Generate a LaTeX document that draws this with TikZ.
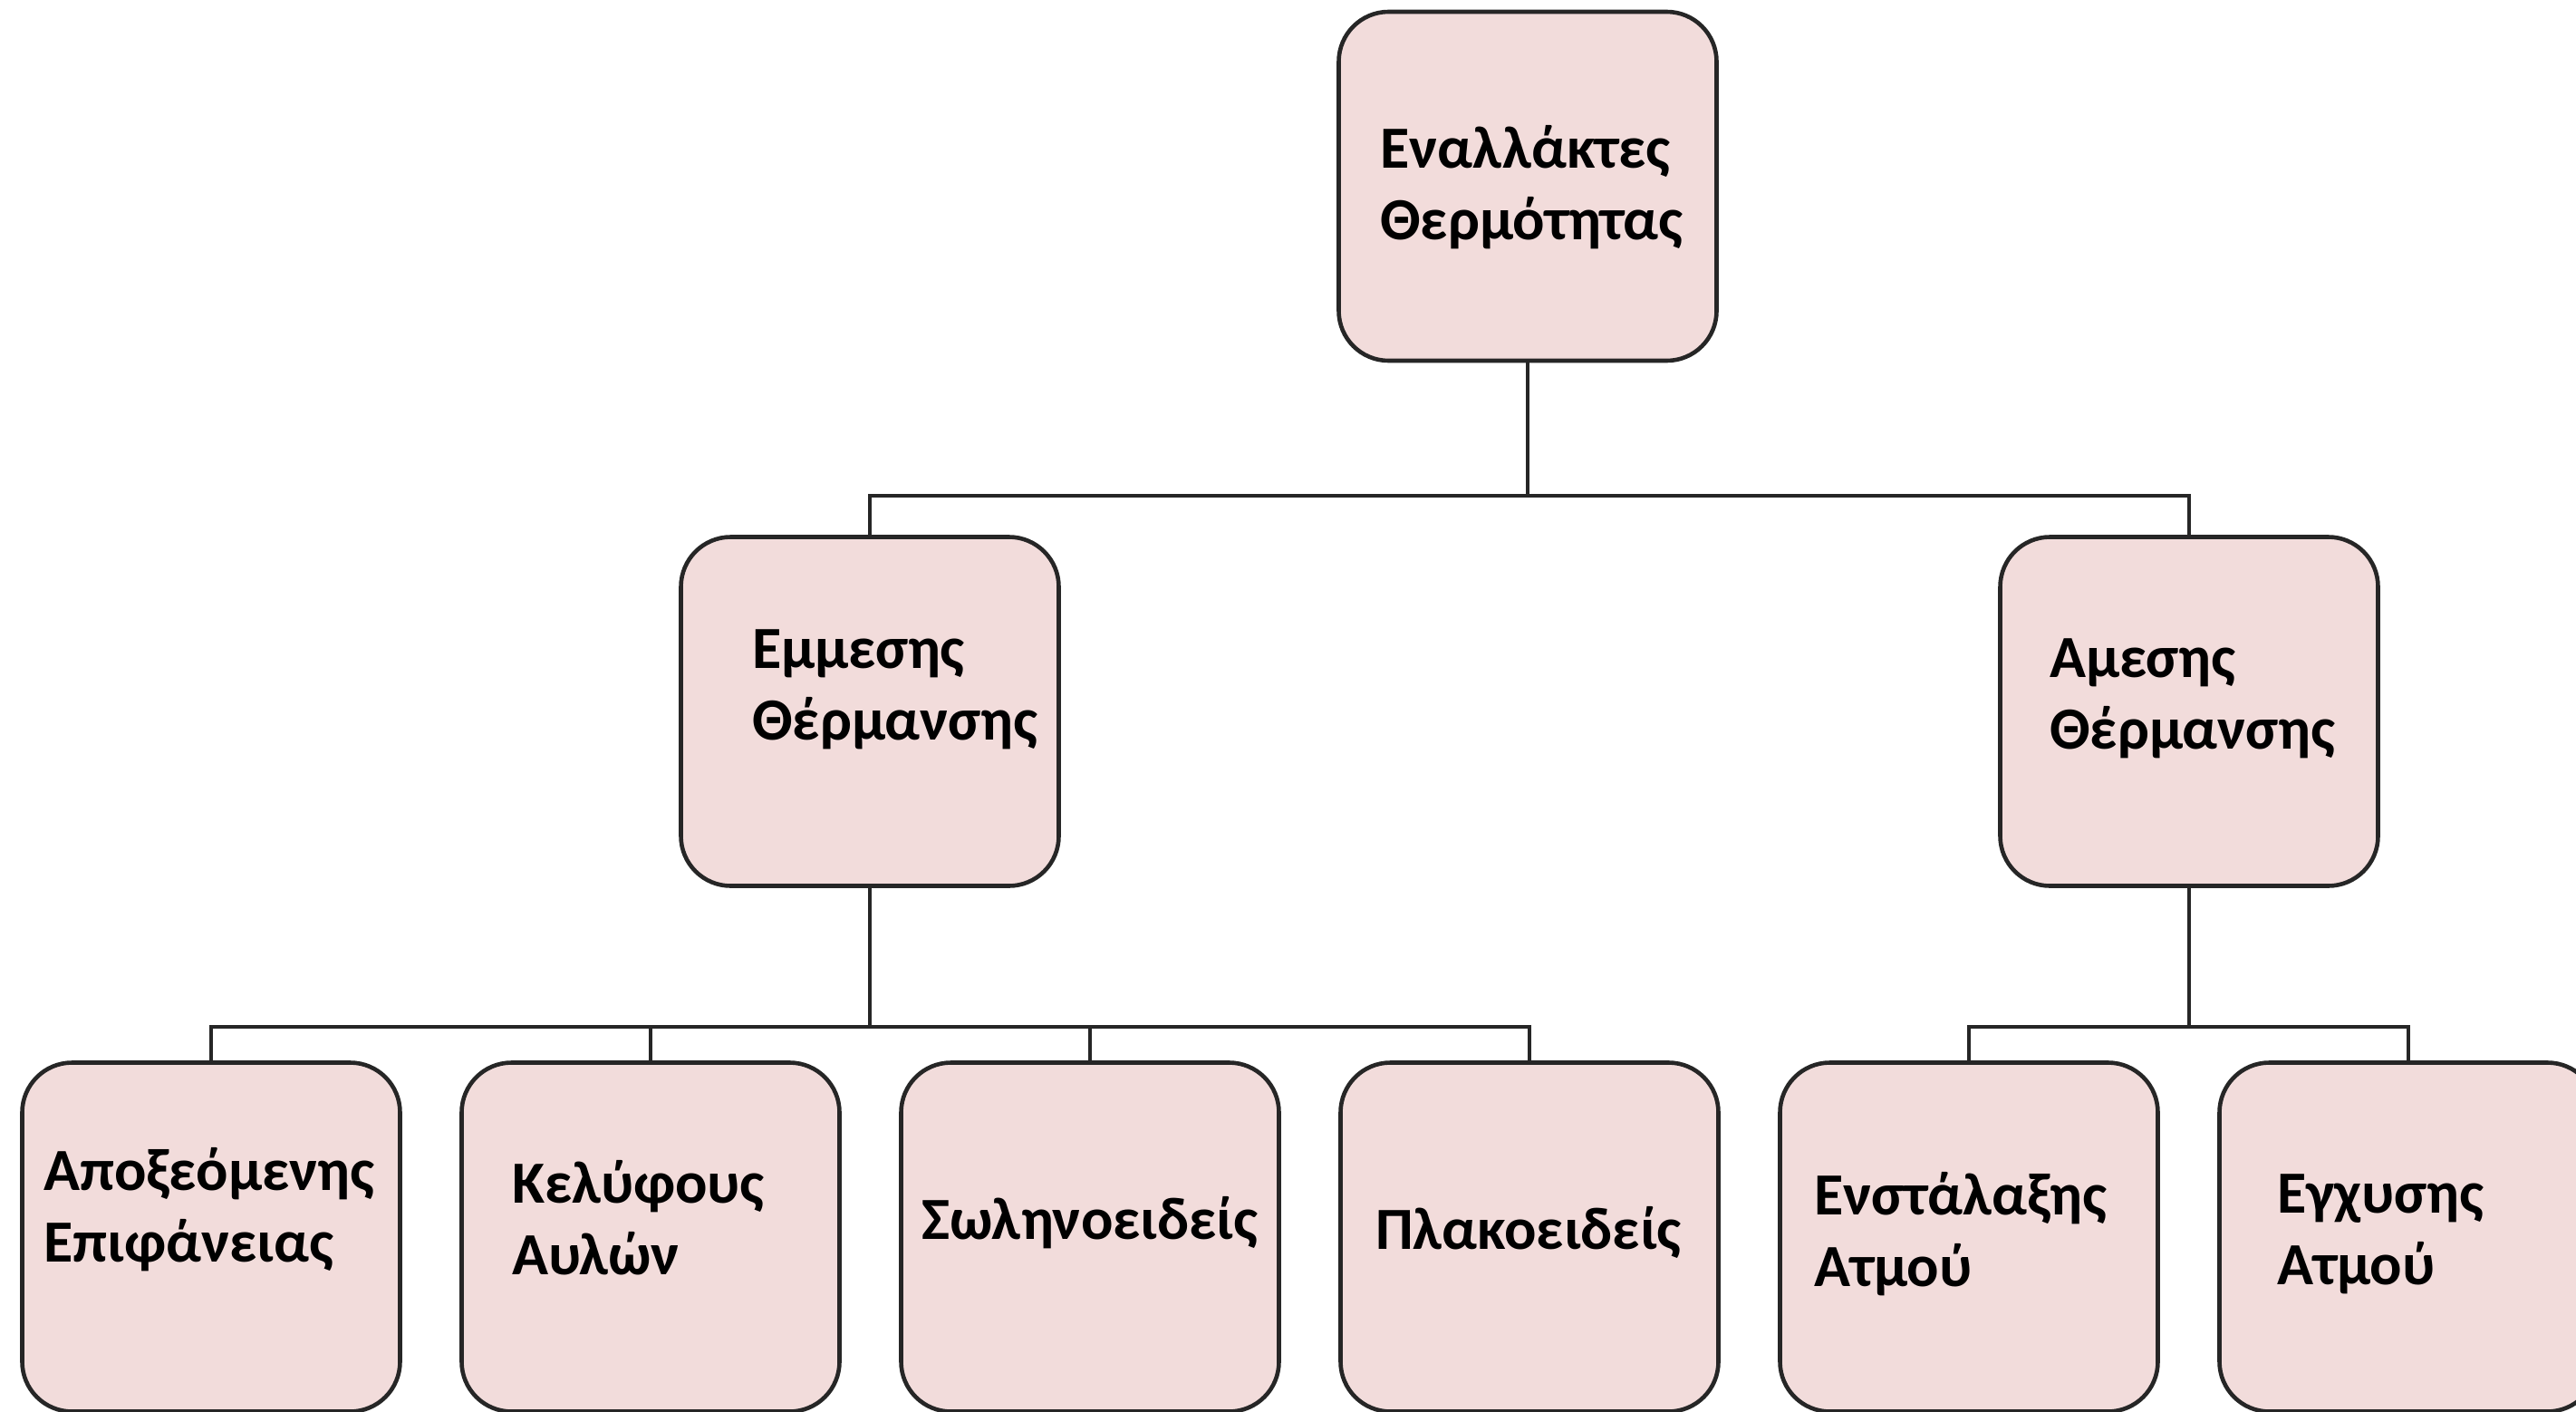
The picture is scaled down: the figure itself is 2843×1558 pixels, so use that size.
\documentclass[tikz,border=0pt]{standalone}
\usepackage{fontspec}
\setmainfont{Carlito}
\definecolor{boxfill}{HTML}{F2DCDB}
\definecolor{boxline}{HTML}{262626}
\begin{document}
\begin{tikzpicture}[x=1pt,y=1pt,
  box/.style={draw=boxline, fill=boxfill, line width=4.6pt, rounded corners=55pt,
              minimum width=417pt, minimum height=385pt, inner sep=0pt},
  lbl/.style={font=\bfseries\fontsize{66}{79}\selectfont, inner sep=0pt,
              anchor=base west, text=black},
  conn/.style={draw=boxline, line width=4.6pt}]
\useasboundingbox (0,0) rectangle (2843,-1558);
\fill[white] (0,0) rectangle (2843,-1558);

\coordinate (jt) at (1686,-547);
\coordinate (jl) at (960,-1133);
\coordinate (jr) at (2416,-1133);

% boxes
\node[box] (top) at (1686,-205.5) {};
\node[box] (ml)  at (960,-785) {};
\node[box] (mr)  at (2416,-785) {};
\node[box] (b1)  at (233,-1365) {};
\node[box] (b2)  at (718,-1365) {};
\node[box] (b3)  at (1203,-1365) {};
\node[box] (b4)  at (1688,-1365) {};
\node[box] (b5)  at (2173,-1365) {};
\node[box] (b6)  at (2658,-1365) {};

% connectors
\path[conn] (top.south) -- (jt) -| (ml.north);
\path[conn] (jt) -| (mr.north);
\path[conn] (ml.south) -- (jl) -| (b1.north);
\path[conn] (jl) -| (b2.north);
\path[conn] (jl) -| (b3.north);
\path[conn] (jl) -| (b4.north);
\path[conn] (mr.south) -- (jr) -| (b5.north);
\path[conn] (jr) -| (b6.north);

% labels
\node[lbl] (ttop) at (1523,-185) {\begin{tabular}[t]{@{}l@{}}Εναλλάκτες\\Θερμότητας\end{tabular}};
\node[lbl] (tml)  at (830,-737)  {\begin{tabular}[t]{@{}l@{}}Εμμεσης\\Θέρμανσης\end{tabular}};
\node[lbl] (tmr)  at (2262,-747) {\begin{tabular}[t]{@{}l@{}}Αμεσης\\Θέρμανσης\end{tabular}};
\node[lbl] (tb1)  at (48,-1313)  {\begin{tabular}[t]{@{}l@{}}Αποξεόμενης\\Επιφάνειας\end{tabular}};
\node[lbl] (tb2)  at (565,-1327) {\begin{tabular}[t]{@{}l@{}}Κελύφους\\Αυλών\end{tabular}};
\node[lbl] (tb3)  at (1017,-1367) {Σωληνοειδείς};
\node[lbl] (tb4)  at (1518,-1378) {Πλακοειδείς};
\node[lbl] (tb5)  at (2002,-1340) {\begin{tabular}[t]{@{}l@{}}Ενστάλαξης\\Ατμού\end{tabular}};
\node[lbl] (tb6)  at (2513,-1338) {\begin{tabular}[t]{@{}l@{}}Εγχυσης\\Ατμού\end{tabular}};
\end{tikzpicture}
\end{document}
